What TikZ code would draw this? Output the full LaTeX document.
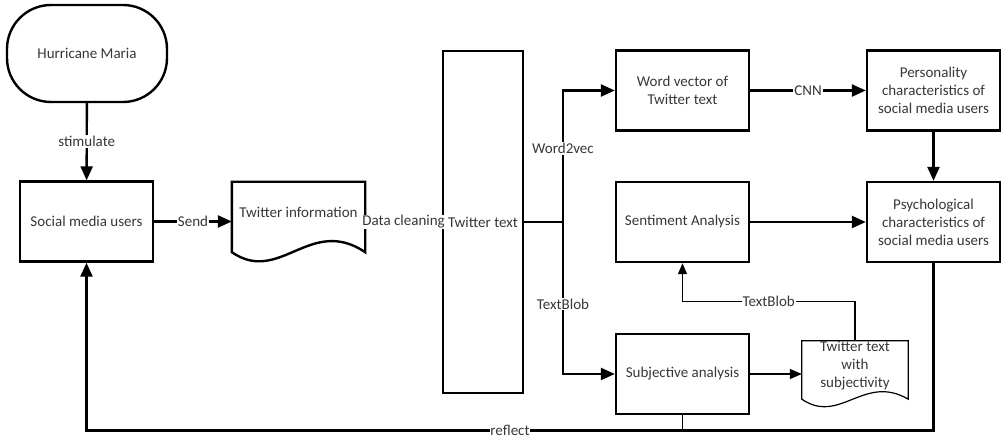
\documentclass[tikz,border=0pt]{standalone}
\usepackage{fontspec}
\setmainfont{Carlito}
\RequirePackage{xcolor}
\definecolor{txtgray}{RGB}{55,55,55}
\tikzset{every picture/.style={/utils/exec={\fontsize{15}{18}\selectfont}}}
\usetikzlibrary{calc}
\usetikzlibrary{positioning}
\usetikzlibrary{arrows.meta}
\tikzset{
  box/.style={draw, line width=2.4pt, minimum width=133pt, minimum height=80pt, align=center, text=txtgray},
  flow/.style={line width=2.4pt, -{Triangle[length=14pt,width=12pt]}},
  thinflow/.style={line width=1.2pt, -{Triangle[length=11pt,width=9pt]}},
  lbl/.style={fill=white, inner sep=1pt, text=txtgray},
}

\begin{document}
\begin{tikzpicture}[x=1pt, y=-1pt]
  \useasboundingbox (0,0) rectangle (1002,438);

  \node [box, rounded corners=44pt, minimum width=160pt, minimum height=97pt] (maria) at (87,53.5) {Hurricane Maria};
  \node [box] (users) at (86.5,221.5) {Social media users};
  \node [minimum width=133pt, minimum height=70pt, label={[text=txtgray, yshift=5pt]center:Twitter information}] (info) at (298.5,217) {};
  \node [box, line width=2pt, minimum width=80pt, minimum height=342pt] (clean) at (483,222) {Twitter text};
  \node [box] (wordvec) at (682.5,90.5) {Word vector of\\Twitter text};
  \node [box] (senti) at (682.5,222) {Sentiment Analysis};
  \node [box] (subj) at (682.5,374) {Subjective analysis};
  \node [box] (person) at (933.5,90.5) {Personality\\characteristics of\\social media users};
  \node [box] (psych) at (933.5,222) {Psychological\\characteristics of\\social media users};
  \node [minimum width=106pt, minimum height=58pt, label={[text=txtgray, align=center, yshift=4pt]center:Twitter text\\with\\subjectivity}] (sdoc) at (855,370) {};

  % document outlines
  \draw [line width=2.4pt] (info.north west) -- (info.north east) -- (info.south east) .. controls +(-55,-37) and +(48,33) .. (info.south west) -- cycle;
  \draw [line width=1.2pt] (sdoc.north west) -- (sdoc.north east) -- (sdoc.south east) .. controls +(-44,-26) and +(38,26) .. (sdoc.south west) -- cycle;

  \coordinate (split) at (563,222);
  \coordinate (base) at (0,430.5);

  \draw [flow] (maria) -- node [lbl] {stimulate} (users);
  \draw [flow] (users) -- node [lbl] {Send} (users -| info.west);
  \draw [line width=2.4pt] (info.east |- clean) -- node [lbl] {Data cleaning} (clean.west);
  \draw [line width=2.4pt] (clean) -- (split);
  \draw [flow] (split) |- node [lbl, pos=0.28] {Word2vec} (wordvec);
  \draw [flow] (split) |- node [lbl, pos=0.27] {TextBlob} (subj);
  \draw [flow] (wordvec) -- node [lbl] {CNN} (person);
  \draw [flow] (person) -- (psych);
  \draw [flow] (senti) -- (psych);
  \draw [line width=1.6pt, -{Triangle[length=12pt,width=10pt]}] (subj) -- (subj -| sdoc.west);
  \draw [thinflow] (sdoc.north) -- ++(0,-39) -| node [lbl, pos=0.25] {TextBlob} (senti);
  \draw [line width=1.2pt] (subj) -- (subj |- base);
  \draw [flow] (psych) -- (psych |- base) -| node [lbl, pos=0.25, inner sep=0pt] {reflect} (users);
  
\end{tikzpicture}
\end{document}
